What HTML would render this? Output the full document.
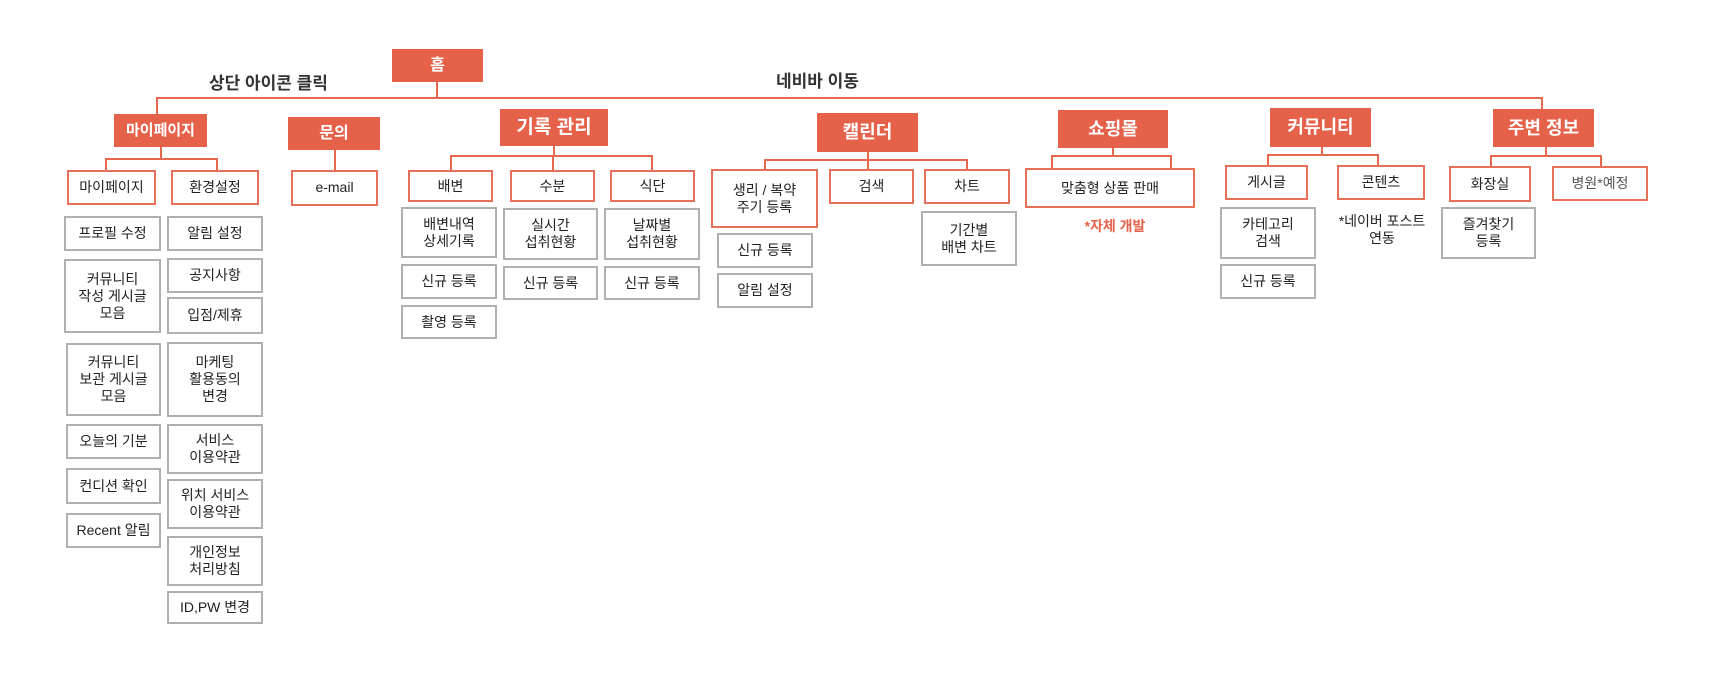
<!DOCTYPE html>
<html><head><meta charset="utf-8"><style>
body{margin:0;width:1719px;height:675px;background:#fff;position:relative;overflow:hidden;font-family:"Liberation Sans","Noto Sans CJK KR","NanumGothic",sans-serif;}
div{position:absolute;box-sizing:border-box;}
.o,.b,.g{display:flex;align-items:center;justify-content:center;text-align:center;line-height:17px;}
.o{background:#E5614A;color:#fff;font-weight:bold;font-size:17px;}
.b{border:2px solid #E8705A;color:#222;font-size:14px;background:#fff;}
.g{border:2px solid #b0b0b0;color:#222;font-size:14px;background:#fff;}
.h{height:2px;background:#E8674F;}
.v{width:2px;background:#E8674F;}
.t{color:#333;font-weight:bold;font-size:17px;white-space:nowrap;}
</style></head><body>
<!-- connectors -->
<div class="v" style="left:436px;top:80px;height:18px"></div>
<div class="h" style="left:156px;top:97px;width:1387px"></div>
<div class="v" style="left:156px;top:97px;height:17px"></div>
<div class="v" style="left:1541px;top:97px;height:12px"></div>

<div class="v" style="left:160px;top:147px;height:12px"></div>
<div class="h" style="left:105px;top:158px;width:113px"></div>
<div class="v" style="left:105px;top:158px;height:12px"></div>
<div class="v" style="left:216px;top:158px;height:12px"></div>

<div class="v" style="left:334px;top:150px;height:20px"></div>

<div class="v" style="left:553px;top:146px;height:10px"></div>
<div class="h" style="left:450px;top:155px;width:203px"></div>
<div class="v" style="left:450px;top:155px;height:15px"></div>
<div class="v" style="left:552px;top:155px;height:15px"></div>
<div class="v" style="left:651px;top:155px;height:15px"></div>

<div class="v" style="left:867px;top:152px;height:8px"></div>
<div class="h" style="left:764px;top:159px;width:204px"></div>
<div class="v" style="left:764px;top:159px;height:10px"></div>
<div class="v" style="left:867px;top:159px;height:10px"></div>
<div class="v" style="left:966px;top:159px;height:10px"></div>

<div class="v" style="left:1112px;top:148px;height:8px"></div>
<div class="h" style="left:1051px;top:155px;width:121px"></div>
<div class="v" style="left:1051px;top:155px;height:13px"></div>
<div class="v" style="left:1170px;top:155px;height:13px"></div>

<div class="v" style="left:1321px;top:147px;height:8px"></div>
<div class="h" style="left:1267px;top:154px;width:112px"></div>
<div class="v" style="left:1267px;top:154px;height:11px"></div>
<div class="v" style="left:1377px;top:154px;height:11px"></div>

<div class="v" style="left:1545px;top:147px;height:9px"></div>
<div class="h" style="left:1490px;top:155px;width:112px"></div>
<div class="v" style="left:1490px;top:155px;height:11px"></div>
<div class="v" style="left:1600px;top:155px;height:11px"></div>

<!-- labels -->
<div class="t" style="left:209px;top:69px">상단 아이콘 클릭</div>
<div class="t" style="left:776px;top:67px">네비바 이동</div>

<!-- L1 -->
<div class="o" style="left:392px;top:49px;width:91px;height:33px;font-size:16px">홈</div>
<div class="o" style="left:114px;top:114px;width:93px;height:33px;font-size:15px">마이페이지</div>
<div class="o" style="left:288px;top:117px;width:92px;height:33px;font-size:16px">문의</div>
<div class="o" style="left:500px;top:109px;width:108px;height:37px;font-size:19px">기록 관리</div>
<div class="o" style="left:817px;top:113px;width:101px;height:39px;font-size:18px">캘린더</div>
<div class="o" style="left:1058px;top:110px;width:110px;height:38px;font-size:18px">쇼핑몰</div>
<div class="o" style="left:1270px;top:108px;width:101px;height:39px;font-size:18px">커뮤니티</div>
<div class="o" style="left:1493px;top:109px;width:101px;height:38px;font-size:18px">주변 정보</div>

<!-- L2 -->
<div class="b" style="left:67px;top:170px;width:89px;height:35px">마이페이지</div>
<div class="b" style="left:171px;top:170px;width:88px;height:35px">환경설정</div>
<div class="b" style="left:291px;top:170px;width:87px;height:36px;align-items:flex-start;padding-top:7px">e-mail</div>
<div class="b" style="left:408px;top:170px;width:85px;height:32px">배변</div>
<div class="b" style="left:510px;top:170px;width:85px;height:32px">수분</div>
<div class="b" style="left:610px;top:170px;width:85px;height:32px">식단</div>
<div class="b" style="left:711px;top:169px;width:107px;height:59px">생리 / 복약<br>주기 등록</div>
<div class="b" style="left:829px;top:169px;width:85px;height:35px">검색</div>
<div class="b" style="left:924px;top:169px;width:86px;height:35px;align-items:flex-start;padding-top:7px">차트</div>
<div class="b" style="left:1025px;top:168px;width:170px;height:40px">맞춤형 상품 판매</div>
<div class="b" style="left:1225px;top:165px;width:83px;height:35px">게시글</div>
<div class="b" style="left:1337px;top:165px;width:88px;height:35px">콘텐츠</div>
<div class="b" style="left:1449px;top:166px;width:82px;height:36px">화장실</div>
<div class="b" style="left:1552px;top:166px;width:96px;height:35px;color:#555">병원*예정</div>

<div style="left:1060px;top:216px;width:110px;text-align:center;color:#E5614A;font-weight:bold;font-size:14px">*자체 개발</div>
<div style="left:1330px;top:213px;width:104px;text-align:center;color:#222;font-size:14px;line-height:17px">*네이버 포스트<br>연동</div>

<!-- L3 mypage -->
<div class="g" style="left:64px;top:216px;width:97px;height:35px">프로필 수정</div>
<div class="g" style="left:64px;top:259px;width:97px;height:74px">커뮤니티<br>작성 게시글<br>모음</div>
<div class="g" style="left:66px;top:343px;width:95px;height:73px">커뮤니티<br>보관 게시글<br>모음</div>
<div class="g" style="left:66px;top:424px;width:95px;height:35px">오늘의 기분</div>
<div class="g" style="left:66px;top:468px;width:95px;height:36px">컨디션 확인</div>
<div class="g" style="left:66px;top:513px;width:95px;height:35px">Recent 알림</div>

<div class="g" style="left:167px;top:216px;width:96px;height:35px">알림 설정</div>
<div class="g" style="left:167px;top:258px;width:96px;height:35px">공지사항</div>
<div class="g" style="left:167px;top:297px;width:96px;height:37px">입점/제휴</div>
<div class="g" style="left:167px;top:342px;width:96px;height:75px">마케팅<br>활용동의<br>변경</div>
<div class="g" style="left:167px;top:424px;width:96px;height:50px">서비스<br>이용약관</div>
<div class="g" style="left:167px;top:479px;width:96px;height:50px">위치 서비스<br>이용약관</div>
<div class="g" style="left:167px;top:536px;width:96px;height:50px">개인정보<br>처리방침</div>
<div class="g" style="left:167px;top:591px;width:96px;height:33px">ID,PW 변경</div>

<!-- L3 records -->
<div class="g" style="left:401px;top:207px;width:96px;height:51px">배변내역<br>상세기록</div>
<div class="g" style="left:401px;top:264px;width:96px;height:35px">신규 등록</div>
<div class="g" style="left:401px;top:305px;width:96px;height:34px">촬영 등록</div>
<div class="g" style="left:503px;top:208px;width:95px;height:52px">실시간<br>섭취현황</div>
<div class="g" style="left:503px;top:266px;width:95px;height:34px">신규 등록</div>
<div class="g" style="left:604px;top:208px;width:96px;height:52px">날짜별<br>섭취현황</div>
<div class="g" style="left:604px;top:266px;width:96px;height:34px">신규 등록</div>

<!-- calendar -->
<div class="g" style="left:717px;top:233px;width:96px;height:35px">신규 등록</div>
<div class="g" style="left:717px;top:273px;width:96px;height:35px">알림 설정</div>
<div class="g" style="left:921px;top:211px;width:96px;height:55px">기간별<br>배변 차트</div>

<!-- community / around -->
<div class="g" style="left:1220px;top:207px;width:96px;height:52px">카테고리<br>검색</div>
<div class="g" style="left:1220px;top:264px;width:96px;height:35px">신규 등록</div>
<div class="g" style="left:1441px;top:207px;width:95px;height:52px">즐겨찾기<br>등록</div>
</body></html>
